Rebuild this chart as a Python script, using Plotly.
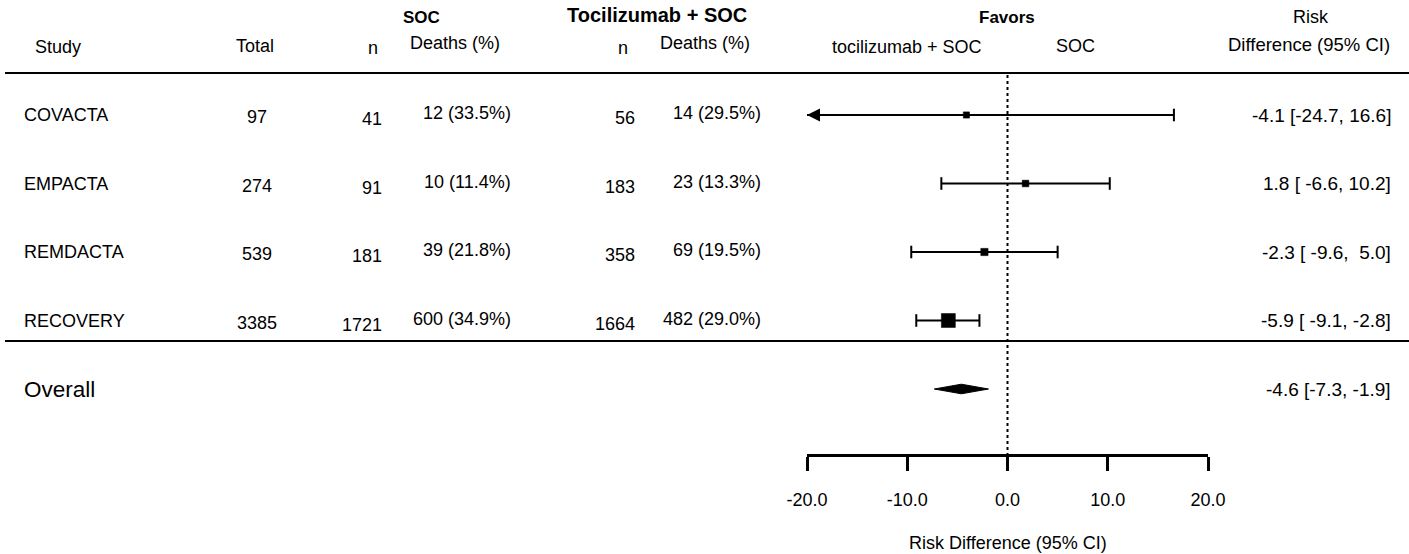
import plotly.graph_objects as go

# ---------------- data ----------------
studies = ["COVACTA", "EMPACTA", "REMDACTA", "RECOVERY"]
total = [97, 274, 539, 3385]
soc_n = [41, 91, 181, 1721]
soc_deaths = [12, 10, 39, 600]
soc_pct = [33.5, 11.4, 21.8, 34.9]
toc_n = [56, 183, 358, 1664]
toc_deaths = [14, 23, 69, 482]
toc_pct = [29.5, 13.3, 19.5, 29.0]
rd = [-4.1, 1.8, -2.3, -5.9]
rd_lo = [-24.7, -6.6, -9.6, -9.1]
rd_hi = [16.6, 10.2, 5.0, -2.8]
overall_label = "Overall"
overall_rd = -4.6
overall_lo = -7.3
overall_hi = -1.9
x_ticks = [-20, -10, 0, 10, 20]
x_tick_labels = ["-20.0", "-10.0", "0.0", "10.0", "20.0"]
x_min, x_max = -20, 20

# ---------------- layout helpers ----------------
W, H = 1409, 554
ROW0_PX, ROW_STEP = 115, 68.5
FONT = "Liberation Sans, Arial, sans-serif"
FS = 18


def prow(px):
    """pixel y -> row coordinate"""
    return (px - ROW0_PX) / ROW_STEP


def px_x(px):
    return px / W


fig = go.Figure()

# CI lines
for i in range(len(studies)):
    lo = max(rd_lo[i], x_min)
    fig.add_trace(go.Scatter(x=[lo, rd_hi[i]], y=[i, i], mode="lines",
                             line=dict(color="black", width=2),
                             hoverinfo="skip", showlegend=False))

# caps
cap_x, cap_y = [], []
for i in range(len(studies)):
    for v in (rd_lo[i], rd_hi[i]):
        if x_min <= v <= x_max:
            cap_x.append(v)
            cap_y.append(i)
fig.add_trace(go.Scatter(x=cap_x, y=cap_y, mode="markers",
                         marker=dict(symbol="line-ns", size=9,
                                     line=dict(color="black", width=2)),
                         hoverinfo="skip", showlegend=False))

# arrows for clipped CIs
for i in range(len(studies)):
    if rd_lo[i] < x_min:
        fig.add_annotation(x=x_min, y=i, ax=x_min + 1.6, ay=i, xref="x", yref="y",
                           axref="x", ayref="y", text="", showarrow=True,
                           arrowhead=2, arrowsize=1.3, arrowwidth=2,
                           arrowcolor="black", standoff=0)

# point estimates
sizes = [6 + 8 * t / max(total) for t in total]
fig.add_trace(go.Scatter(x=rd, y=list(range(len(studies))), mode="markers",
                         marker=dict(symbol="square", size=sizes, color="black",
                                     opacity=1, line=dict(width=0.5, color="black")),
                         hoverinfo="skip", showlegend=False))

# overall diamond
orow = len(studies)
h = 0.07
fig.add_trace(go.Scatter(x=[overall_lo, overall_rd, overall_hi, overall_rd, overall_lo],
                         y=[orow, orow - h, orow, orow + h, orow],
                         mode="lines", fill="toself", fillcolor="black",
                         line=dict(color="black", width=1),
                         hoverinfo="skip", showlegend=False))

ann = []


def txt(x_px, y, text, anchor="center", size=FS, bold=False, yshift=0):
    t = f"<b>{text}</b>" if bold else text
    ann.append(dict(x=px_x(x_px), xref="paper", y=y, yref="y", text=t,
                    showarrow=False, xanchor=anchor, yanchor="middle",
                    yshift=yshift,
                    font=dict(family=FONT, size=size, color="black")))


# headers
r1, r2 = prow(17), prow(46)
txt(421, r1, "SOC", bold=True, size=17)
txt(657, prow(15), "Tocilizumab + SOC", bold=True, size=20)
txt(1007, r1, "Favors", bold=True, size=17)
txt(1311, r1, "Risk")
txt(58, prow(47), "Study")
txt(255, r2, "Total")
txt(373, prow(48), "n")
txt(455, prow(43), "Deaths (%)")
txt(623, prow(48), "n")
txt(705, prow(43), "Deaths (%)")
txt(907, prow(47), "tocilizumab + SOC")
txt(1075, r2, "SOC")
txt(1309, prow(44), "Difference (95% CI)", size=18.5)


def nb(s):
    return s.replace(" ", "\u00a0")


for i, s in enumerate(studies):
    txt(22, i, s, anchor="left")
    txt(257, i, str(total[i]), yshift=-2)
    txt(384, i, str(soc_n[i]), anchor="right", yshift=-4)
    txt(513, i, f"{soc_deaths[i]} ({soc_pct[i]:.1f}%)", anchor="right", yshift=2)
    txt(637, i, str(toc_n[i]), anchor="right", yshift=-3)
    txt(763, i, f"{toc_deaths[i]} ({toc_pct[i]:.1f}%)", anchor="right", yshift=2)
    txt(1393, i, nb(f"{rd[i]:.1f} [{rd_lo[i]:5.1f}, {rd_hi[i]:4.1f}]"), anchor="right",
        size=19)

txt(22, orow, overall_label, anchor="left", size=22.5)
txt(1393, orow, f"{overall_rd:.1f} [{overall_lo:.1f}, {overall_hi:.1f}]", anchor="right",
    size=19)

# axis title as annotation
ann.append(dict(x=0, xref="x", y=prow(543), yref="y", text="Risk Difference (95% CI)",
                showarrow=False, xanchor="center", yanchor="middle",
                font=dict(family=FONT, size=FS, color="black")))

shapes = [
    dict(type="line", xref="paper", yref="y", x0=px_x(5), x1=1,
         y0=prow(73), y1=prow(73), line=dict(color="black", width=2.2)),
    dict(type="line", xref="paper", yref="y", x0=px_x(5), x1=1,
         y0=prow(341), y1=prow(341), line=dict(color="black", width=2.2)),
    dict(type="line", xref="x", yref="y", x0=0, x1=0,
         y0=prow(75), y1=prow(455), line=dict(color="black", width=2, dash="dot"),
         layer="below"),
]

fig.update_layout(
    width=W, height=H,
    margin=dict(l=0, r=0, t=0, b=0),
    paper_bgcolor="white", plot_bgcolor="white",
    annotations=fig.layout.annotations + tuple(ann),
    shapes=shapes,
    xaxis=dict(domain=[807 / W, 1208 / W], range=[x_min, x_max],
               anchor="free", position=1 - 455 / H,
               showline=True, linecolor="black", linewidth=2.5,
               ticks="outside", ticklen=14, tickwidth=2.5, tickcolor="black",
               tickvals=x_ticks, ticktext=x_tick_labels, ticklabelstandoff=14,
               tickfont=dict(family=FONT, size=FS, color="black"),
               showgrid=False, zeroline=False, automargin=False, fixedrange=True),
    yaxis=dict(range=[prow(H), prow(0)], visible=False, showgrid=False,
               zeroline=False, fixedrange=True),
)

fig.write_html("out.html", config={"displayModeBar": False},
               post_script="document.body.style.margin='0px';document.body.style.overflow='hidden';")
